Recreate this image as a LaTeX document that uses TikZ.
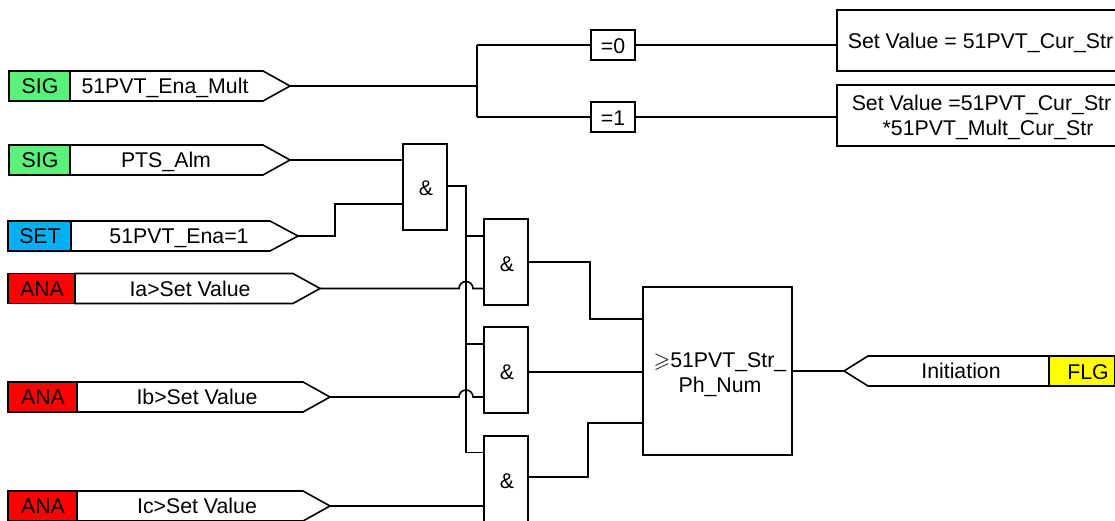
\documentclass[tikz,border=0pt]{standalone}
\usepackage{amssymb}
\usepackage{fontspec}
\setmainfont{Liberation Sans}
\definecolor{siggreen}{HTML}{5AF07A}
\definecolor{setblue}{HTML}{00B0F0}
\definecolor{anared}{HTML}{FF0000}
\definecolor{flgyellow}{HTML}{FFFF00}
\tikzset{
  wire/.style={line width=1.6pt,line join=miter},
  lab/.style={font=\fontsize{21.3}{25}\selectfont,inner sep=0pt,text height=15pt,text depth=0pt,text=black},
  boxed/.style={draw,line width=1.6pt,fill=white,inner sep=0pt,font=\fontsize{21.3}{25}\selectfont,align=center,text=black},
  andgate/.style={boxed,minimum width=44pt,minimum height=86pt,text height=18pt,text depth=0pt},
  eqbox/.style={boxed,minimum width=44pt,minimum height=30pt,text height=17pt,text depth=0pt},
  setbox/.style={boxed,minimum width=320pt,minimum height=61pt},
}
% name, x left, x tag end, x body end, x tip, y centre, colour, tag, text centre x
\newcommand{\inport}[9]{%
  \coordinate (#1tip) at (#5,#6);
  \draw[wire,fill=white] (#3,#6-15) -- (#4,#6-15) -- (#1tip) -- (#4,#6+15) -- (#3,#6+15) -- cycle;
  \node[boxed,fill=#7,minimum width=#3pt-#2pt,minimum height=30pt,text height=15pt,text depth=0pt] (#1tag) at ({(#2+#3)/2},#6) {\hspace*{1pt}#8};
  \node[lab] (#1txt) at (#9,#6) {\csname txt#1\endcsname};
}
\begin{document}
\begin{tikzpicture}[x=1pt,y=-1pt]
\useasboundingbox (0,0) rectangle (1115,521);
\expandafter\def\csname txtsa\endcsname{51PVT\_Ena\_Mult}
\expandafter\def\csname txtsb\endcsname{PTS\_Alm}
\expandafter\def\csname txtsc\endcsname{51PVT\_Ena=1}
\expandafter\def\csname txtaa\endcsname{Ia>Set Value}
\expandafter\def\csname txtab\endcsname{Ib>Set Value}
\expandafter\def\csname txtac\endcsname{Ic>Set Value}
\inport{sa}{9}{70}{263}{290}{86}{siggreen}{SIG}{165}
\inport{sb}{9}{70}{263}{290}{160}{siggreen}{SIG}{166}
\inport{sc}{8}{71}{270}{298}{236}{setblue}{SET}{179}
\inport{aa}{8}{75}{293}{320}{288.5}{anared}{ANA}{190}
\inport{ab}{8}{77}{303}{330}{397}{anared}{ANA}{197}
\inport{ac}{8}{77}{303}{330}{506}{anared}{ANA}{197}

\node[andgate] (g1) at (425,187) {\hspace*{2pt}\&};
\node[andgate] (g2) at (506,262) {\hspace*{2pt}\&};
\node[andgate] (g3) at (506,370) {\hspace*{2pt}\&};
\node[andgate] (g4) at (506,479) {\hspace*{2pt}\&};
\node[boxed,minimum width=149pt,minimum height=168pt] (big) at (717.5,371) {};
\node[lab,text height=,text depth=,align=center] (bigt) at (720,374.5) {$\geqslant$51PVT\_Str\_\\Ph\_Num};
\node[eqbox] (e0) at (613,45) {=0};
\node[eqbox] (e1) at (613,117) {=1};
\node[setbox,anchor=west] (v0) at (836,40.5) {};
\node[setbox,anchor=west] (v1) at (836,115.5) {};
\node[lab] (v0t) at (980.5,41) {Set Value = 51PVT\_Cur\_Str};
\node[lab,text height=,text depth=,align=center] (v1t) at (981.5,117) {Set Value =51PVT\_Cur\_Str\\\hspace*{13pt}*51PVT\_Mult\_Cur\_Str};

% output port
\coordinate (fltip) at (844,371);
\draw[wire,fill=white] (1049,356) -- (868,356) -- (fltip) -- (868,386) -- (1049,386) -- cycle;
\node[boxed,fill=flgyellow,minimum width=66pt,minimum height=30pt,text height=15pt,text depth=0pt] (fltag) at (1082,371) {};
\node[lab] (flg) at (1088,372) {FLG};
\node[lab] (fltxt) at (961,371) {Initiation};

% junction points
\coordinate (split) at (477,86);
\coordinate (bus) at (466,186);
\coordinate (busend) at (466,452.5);
\coordinate (h1) at (466,288.5);
\coordinate (h2) at (466,397);

\draw[wire] (satip) -- (split);
\draw[wire] (e0.west -| split) -- (e1.west -| split);
\draw[wire] (e0.west -| split) -- (e0.west);
\draw[wire] (e1.west -| split) -- (e1.west);
\draw[wire] (e0.east) -- (e0.east -| v0.west);
\draw[wire] (e1.east) -- (e1.east -| v1.west);

\draw[wire] (sbtip) -- (sbtip -| g1.west);
\draw[wire] (sctip) -- (335,236) -- (335,204) -- (g1.west |- 0,204);
\draw[wire] (g1.east |- bus) -- (bus) -- (busend) -- (g4.west |- busend);
\draw[wire] (466,236) -- (g2.west |- 0,236);
\draw[wire] (466,344) -- (g3.west |- 0,344);

\draw[wire] (aatip) -- ([xshift=-7pt]h1) arc[start angle=180,end angle=360,radius=7pt,y radius=-7pt] -- (g2.west |- h1);
\draw[wire] (abtip) -- ([xshift=-7pt]h2) arc[start angle=180,end angle=360,radius=7pt,y radius=-7pt] -- (g3.west |- h2);
\draw[wire] (actip) -- (g4.west |- actip);

\draw[wire] (g2.east) -- (590,262) -- (590,319) -- (big.west |- 0,319);
\draw[wire] (g3.east |- 0,372) -- (big.west |- 0,372);
\draw[wire] (g4.east |- 0,477) -- (588,477) -- (588,423) -- (big.west |- 0,423);
\draw[wire] (big.east |- fltip) -- (fltip);
\end{tikzpicture}
\end{document}
